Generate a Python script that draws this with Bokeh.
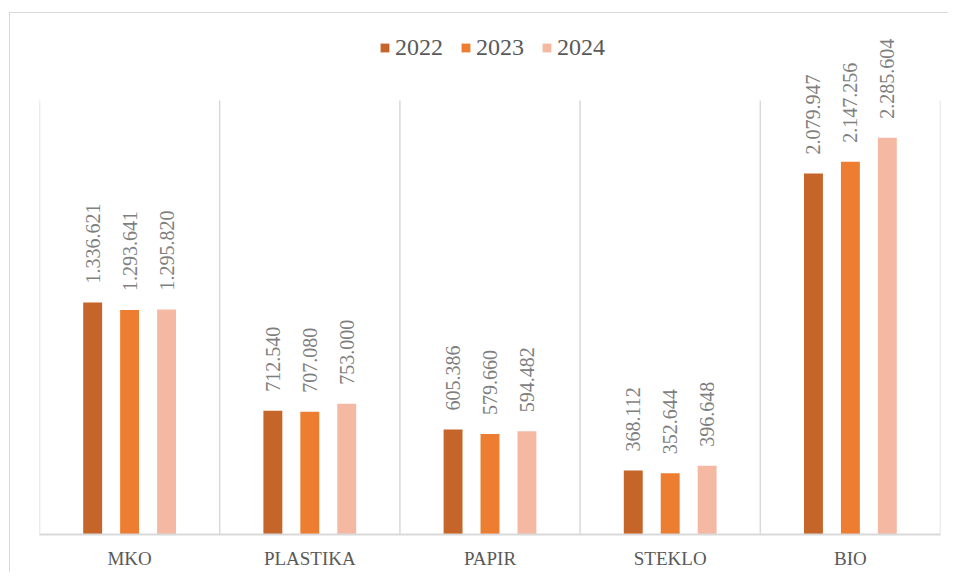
from bokeh.plotting import figure
from bokeh.models import (Range1d, FixedTicker, ColumnDataSource, Legend, LegendItem)
from bokeh.transform import dodge
from bokeh.core.properties import value
from bokeh.embed import file_html
from bokeh.resources import INLINE

categories = ["MKO", "PLASTIKA", "PAPIR", "STEKLO", "BIO"]
years = ["2022", "2023", "2024"]
v2022 = [1336.621, 712.540, 605.386, 368.112, 2079.947]
v2023 = [1293.641, 707.080, 579.660, 352.644, 2147.256]
v2024 = [1295.820, 753.000, 594.482, 396.648, 2285.604]
labels2022 = ["1.336.621", "712.540", "605.386", "368.112", "2.079.947"]
labels2023 = ["1.293.641", "707.080", "579.660", "352.644", "2.147.256"]
labels2024 = ["1.295.820", "753.000", "594.482", "396.648", "2.285.604"]
colors = ["#C5652A", "#ED7D31", "#F5B9A3"]
grid_top = 2500

xc = [i + 0.5 for i in range(len(categories))]
src = ColumnDataSource(dict(x=xc, v2022=v2022, v2023=v2023, v2024=v2024,
                            l2022=labels2022, l2023=labels2023, l2024=labels2024))

p = figure(width=939, height=560, output_backend="svg", toolbar_location=None,
           x_range=Range1d(0, len(categories)), y_range=Range1d(0, 2961),
           min_border_left=29, min_border_right=9, min_border_top=7, min_border_bottom=39)
p.margin = (12, 0, 0, 9)
p.styles = {"border-left": "1px solid #d9d9d9", "border-top": "1px solid #d9d9d9"}
p.outline_line_color = None
p.yaxis.visible = False
p.ygrid.grid_line_color = None
p.xgrid.grid_line_color = None

bounds = list(range(len(categories) + 1))
p.segment(x0=bounds, x1=bounds, y0=[0] * len(bounds), y1=[grid_top] * len(bounds),
          line_color="#d9d9d9", line_width=1.5)

p.xaxis.ticker = FixedTicker(ticks=xc)
p.xaxis.major_label_overrides = {x: c for x, c in zip(xc, categories)}
p.xaxis.major_tick_line_color = None
p.xaxis.minor_tick_line_color = None
p.xaxis.axis_line_color = "#d9d9d9"
p.xaxis.axis_line_width = 2
p.xaxis.major_label_text_font = "Liberation Serif"
p.xaxis.major_label_text_font_size = "19px"
p.xaxis.major_label_text_color = "#595959"
p.xaxis.major_label_standoff = 7

offsets = [-0.205, 0.0, 0.205]
items = []
for yr, off, col in zip(years, offsets, colors):
    r = p.vbar(x=dodge("x", off), top="v" + yr, width=0.105, source=src,
               fill_color=col, line_color=None)
    p.text(x=dodge("x", off), y="v" + yr, text="l" + yr, source=src, angle=1.5708,
           text_align="left", text_baseline="middle", y_offset=-19,
           text_font=value("Liberation Serif"), text_font_size="20px",
           text_color="#7f7f7f")
    items.append(LegendItem(label=yr, renderers=[r]))

legend = Legend(items=items, orientation="horizontal", location=(340, 473),
                glyph_width=11, glyph_height=11, label_standoff=5, spacing=17,
                padding=0, margin=0, border_line_color=None, background_fill_alpha=0,
                label_text_font="Liberation Serif", label_text_font_size="24px",
                label_text_color="#595959")
p.add_layout(legend, "center")

open("out.html", "w").write(file_html(p, INLINE))
